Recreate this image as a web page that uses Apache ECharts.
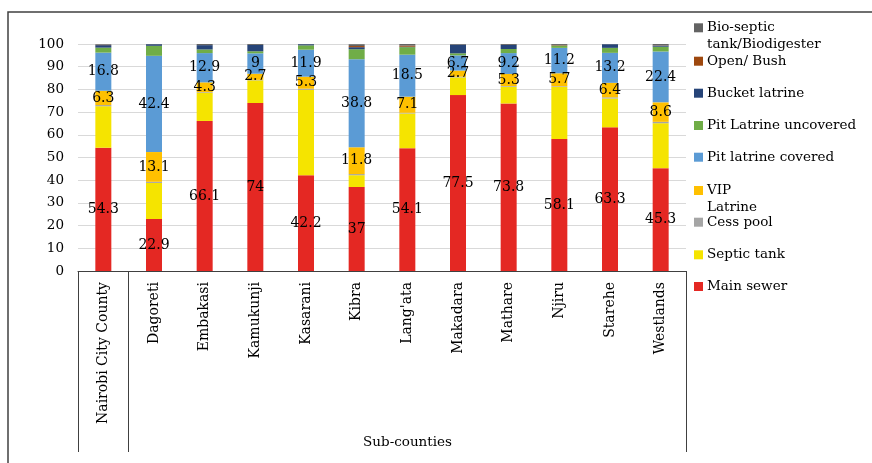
<!DOCTYPE html>
<html>
<head>
<meta charset="utf-8">
<script src="https://cdn.jsdelivr.net/npm/echarts@6/dist/echarts.min.js"></script>
<style>
  html, body { margin: 0; padding: 0; background: #ffffff; }
  #chart { width: 872px; height: 463px; }
</style>
</head>
<body>
<div id="chart"></div>
<script>
// Sanitation facility shares (%) by sub-county, Nairobi
const categories = ["Nairobi City County", "Dagoreti", "Embakasi", "Kamukunji", "Kasarani", "Kibra",
  "Lang'ata", "Makadara", "Mathare", "Njiru", "Starehe", "Westlands"];

const mainSewer     = [54.3, 22.9, 66.1, 74, 42.2, 37, 54.1, 77.5, 73.8, 58.1, 63.3, 45.3];
const septicTank    = [18.3, 15.9, 12.4, 10.0, 37.6, 5.2, 15.3, 7.8, 7.4, 23.0, 12.7, 19.8];
const cessPool      = [0.5, 0.5, 0.3, 0.2, 0.5, 0.5, 0.3, 0.3, 0.3, 0.3, 0.5, 0.6];
const vipLatrine    = [6.3, 13.1, 4.3, 2.7, 5.3, 11.8, 7.1, 2.7, 5.3, 5.7, 6.4, 8.6];
const pitCovered    = [16.8, 42.4, 12.9, 9, 11.9, 38.8, 18.5, 6.7, 9.2, 11.2, 13.2, 22.4];
const pitUncovered  = [2.2, 4.4, 1.6, 0.9, 1.9, 4.4, 3.3, 0.9, 1.8, 1.0, 2.2, 2.1];
const bucketLatrine = [1.1, 0.7, 1.9, 2.8, 0.5, 0.9, 0.2, 3.8, 1.8, 0.1, 1.6, 0.5];
const openBush      = [0.1, 0.0, 0.0, 0.0, 0.0, 0.5, 0.5, 0.0, 0.0, 0.2, 0.0, 0.1];
const bioSeptic     = [0.3, 0.1, 0.5, 0.4, 0.1, 0.8, 0.7, 0.3, 0.4, 0.4, 0.1, 0.6];

const yTicks = { min: 0, max: 100, interval: 10 };

const FONT = '"DejaVu Serif", serif';

// stacking order, bottom to top
const seriesDefs = [
  { name: 'Main sewer', data: mainSewer, color: '#E42823', label: true },
  { name: 'Septic tank', data: septicTank, color: '#F5E400', label: false },
  { name: 'Cess pool', data: cessPool, color: '#A5A5A5', label: false },
  { name: 'VIP Latrine', data: vipLatrine, color: '#FFC000', label: true },
  { name: 'Pit latrine covered', data: pitCovered, color: '#5B9BD5', label: true },
  { name: 'Pit Latrine uncovered', data: pitUncovered, color: '#70AD47', label: false },
  { name: 'Bucket latrine', data: bucketLatrine, color: '#264478', label: false },
  { name: 'Open/ Bush', data: openBush, color: '#9E480E', label: false },
  { name: 'Bio-septic tank/Biodigester', data: bioSeptic, color: '#636363', label: false }
];

// legend text as shown (multi-line entries keep their first line beside the swatch)
const legendText = {
  'Bio-septic tank/Biodigester': '\nBio-septic\ntank/Biodigester',
  'VIP Latrine': '\nVIP\nLatrine'
};
const legendCenters = [27.3, 60.7, 92.7, 125, 156.7, 190, 221.7, 254.3, 286];
const LEGEND_LH = 17;

const legendOrder = seriesDefs.slice().reverse();
const legends = legendOrder.map(function (s, i) {
  const txt = legendText[s.name] || s.name;
  const lines = txt.split('\n').length;
  return {
    data: [s.name],
    left: 694,
    top: legendCenters[i] - lines * LEGEND_LH / 2 + 0.5,
    padding: 0,
    orient: 'vertical',
    icon: 'rect',
    itemWidth: 9,
    itemHeight: 9,
    itemGap: 0,
    selectedMode: false,
    formatter: function (n) { return legendText[n] || n; },
    textStyle: { fontFamily: FONT, fontSize: 13.5, color: '#000', lineHeight: LEGEND_LH, padding: [0, 0, 0, -1] }
  };
});

const series = seriesDefs.map(function (s) {
  return {
    name: s.name,
    type: 'bar',
    stack: 'total',
    barWidth: 16,
    data: s.data,
    itemStyle: { color: s.color },
    emphasis: { disabled: true },
    label: {
      show: s.label,
      position: 'inside',
      color: '#000',
      fontFamily: FONT,
      fontSize: 14,
      textBorderWidth: 0,
      formatter: function (p) { return String(p.value); }
    }
  };
});

const chart = echarts.init(document.getElementById('chart'), null, { renderer: 'canvas' });
chart.setOption({
  animation: false,
  backgroundColor: '#ffffff',
  grid: { left: 78, right: 186, top: 44, bottom: 192, containLabel: false },
  legend: legends,
  xAxis: {
    type: 'category',
    data: categories,
    axisLine: { lineStyle: { color: '#404040', width: 1 } },
    axisTick: {
      show: true,
      interval: function (i) { return i <= 1; },
      length: 181,
      lineStyle: { color: '#404040', width: 1 }
    },
    axisLabel: { interval: 0, rotate: 90, margin: 11, fontFamily: FONT, fontSize: 14, color: '#000' },
    name: 'Sub-counties',
    nameLocation: 'middle',
    nameGap: 164,
    nameTextStyle: { fontFamily: FONT, fontSize: 13.5, color: '#000', padding: [0, 0, 0, 51] }
  },
  yAxis: {
    type: 'value',
    min: yTicks.min,
    max: yTicks.max,
    interval: yTicks.interval,
    axisLine: { show: false },
    axisTick: { show: false },
    splitLine: { lineStyle: { color: '#D9D9D9', width: 1 } },
    axisLabel: { margin: 14, fontFamily: FONT, fontSize: 13.5, color: '#000' }
  },
  graphic: [{
    type: 'rect',
    shape: { x: 8, y: 12, width: 900, height: 500 },
    style: { fill: 'none', stroke: '#404040', lineWidth: 1.5 },
    silent: true
  }],
  series: series
});
</script>
</body>
</html>
